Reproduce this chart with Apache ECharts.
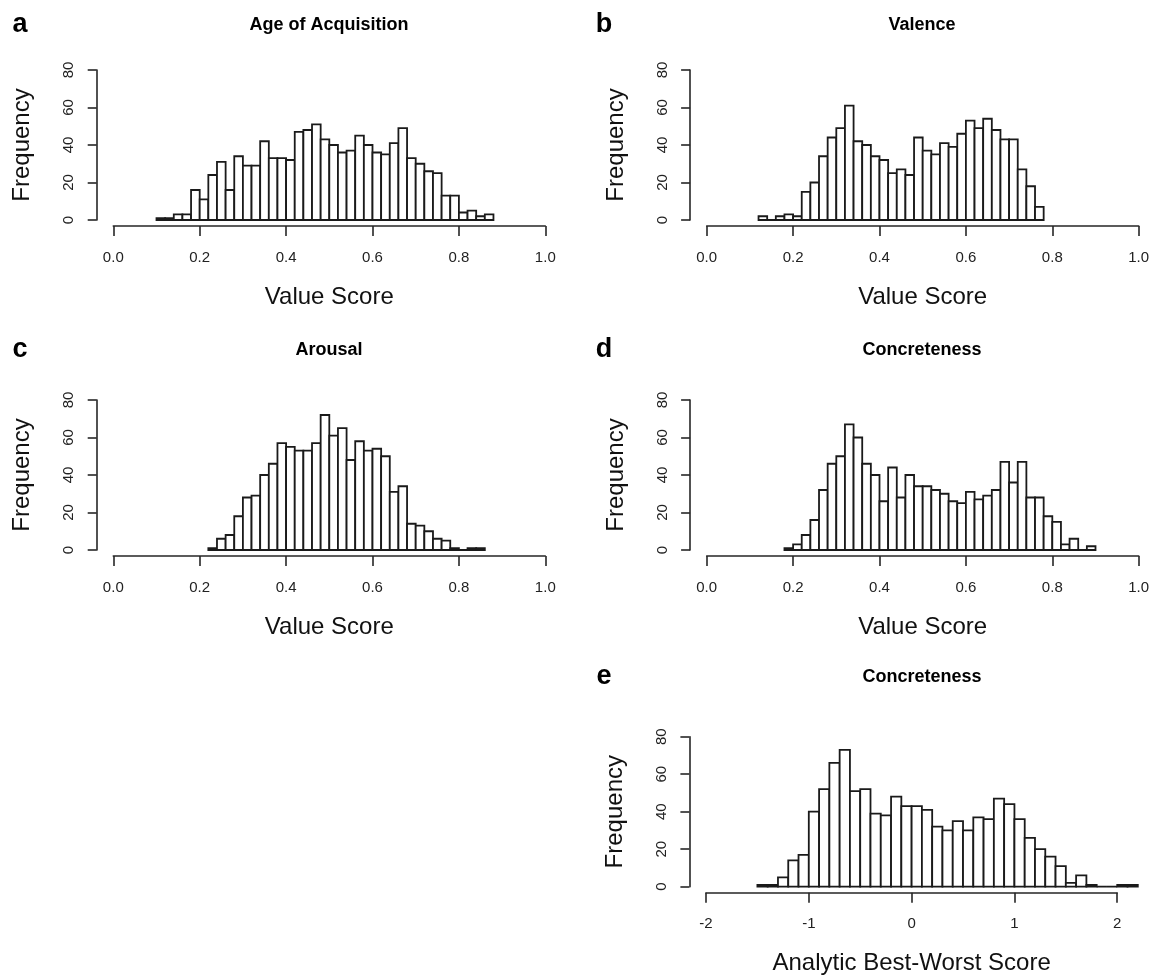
<!DOCTYPE html>
<html>
<head>
<meta charset="utf-8">
<script src="https://cdn.jsdelivr.net/npm/echarts@6/dist/echarts.min.js"></script>
<style>
html,body{margin:0;padding:0;background:#fff;}
#chart{width:1153px;height:977px;}
</style>
</head>
<body>
<div id="chart"></div>
<script>
// ---- data ----
const aoaStart = 0.10, aoaWidth = 0.02;
const aoaCounts = [1,1,3,3,16,11,24,31,16,34,29,29,42,33,33,32,47,48,51,43,40,36,37,45,40,36,35,41,49,33,30,26,25,13,13,4,5,2,3];
const valenceStart = 0.12, valenceWidth = 0.02;
const valenceCounts = [2,0,2,3,2,15,20,34,44,49,61,42,40,34,32,25,27,24,44,37,35,41,39,46,53,49,54,48,43,43,27,18,7];
const arousalStart = 0.22, arousalWidth = 0.02;
const arousalCounts = [1,6,8,18,28,29,40,46,57,55,53,53,57,72,61,65,48,58,53,54,50,31,34,14,13,10,6,5,1,0,1,1];
const concreteStart = 0.18, concreteWidth = 0.02;
const concreteCounts = [1,3,8,16,32,46,50,67,60,46,40,26,44,28,40,34,34,32,30,26,25,31,27,29,32,47,36,47,28,28,18,15,3,6,0,2];
const bwsStart = -1.5, bwsWidth = 0.1;
const bwsCounts = [1,1,5,14,17,40,52,66,73,51,52,39,38,48,43,43,41,32,30,35,30,37,36,47,44,36,26,20,16,11,2,6,1,0,0,1,1];

const freqTicks = [0, 20, 40, 60, 80];
const valueTickLabels = ['0.0','0.2','0.4','0.6','0.8','1.0'];
const bwsTickLabels = ['-2','-1','0','1','2'];
const panelTitles = ['Age of Acquisition','Valence','Arousal','Concreteness','Concreteness'];
const panelLetters = ['a','b','c','d','e'];
const xNames = ['Value Score','Value Score','Value Score','Value Score','Analytic Best-Worst Score'];
const yName = 'Frequency';

// ---- layout ----
const FONT = "'Liberation Sans', Arial, Helvetica, sans-serif";
const INK = '#222';
const grids = [
  {left:113.3, top:70,  width:432, height:150},
  {left:706.7, top:70,  width:432, height:150},
  {left:113.3, top:400, width:432, height:150},
  {left:706.7, top:400, width:432, height:150},
  {left:706,   top:736.7, width:431.8, height:150},   // data grid e (-2 .. 2.2)
  {left:706,   top:736.7, width:411.2, height:150}    // axis-only grid e (-2 .. 2)
].map(g => Object.assign({outerBoundsMode:'none', containLabel:false}, g));

const histSets = [
  [aoaStart, aoaWidth, aoaCounts],
  [valenceStart, valenceWidth, valenceCounts],
  [arousalStart, arousalWidth, arousalCounts],
  [concreteStart, concreteWidth, concreteCounts],
  [bwsStart, bwsWidth, bwsCounts]
];

function binData(start, width, counts){
  return counts.map((c, i) => [start + i*width, start + (i+1)*width, c]);
}

const axisLineStyle = {color:'#262626', width:1.6};
function makeXAxis(i){
  if (i === 4) {
    return {type:'value', gridIndex:4, min:-2, max:2.2, show:false};
  }
  const common = {
    type:'value', gridIndex:i, position:'bottom', offset:6,
    axisLine:{show:true, onZero:false, lineStyle:axisLineStyle},
    axisTick:{show:true, length:10, lineStyle:axisLineStyle},
    splitLine:{show:false},
    nameLocation:'middle', nameGap:59,
    nameTextStyle:{fontSize:24, color:'#111', fontFamily:FONT}
  };
  if (i === 5) {
    return Object.assign(common, {
      min:-2, max:2, interval:1, name:xNames[4],
      axisLabel:{show:true, margin:24, fontSize:15, color:INK, fontFamily:FONT,
        formatter: v => bwsTickLabels[Math.round(v + 2)]}
    });
  }
  return Object.assign(common, {
    min:0, max:1, interval:0.2, name:xNames[i],
    axisLabel:{show:true, margin:24, fontSize:15, color:INK, fontFamily:FONT,
      formatter: v => valueTickLabels[Math.round(v / 0.2)]}
  });
}
function makeYAxis(i){
  return {
    type:'value', gridIndex:i, min:freqTicks[0], max:freqTicks[freqTicks.length-1], interval:20,
    position:'left', offset:16.6,
    axisLine:{show:true, onZero:false, lineStyle:axisLineStyle},
    axisTick:{show:true, length:9, lineStyle:axisLineStyle},
    splitLine:{show:false},
    axisLabel:{show:true, rotate:90, margin:20, fontSize:15, color:INK, fontFamily:FONT},
    name: yName, nameLocation:'middle', nameRotate:90, nameGap:62,
    nameTextStyle:{fontSize:24, color:'#111', fontFamily:FONT}
  };
}

const xAxes = [0,1,2,3,4,5].map(i => makeXAxis(i));
const yAxes = [0,1,2,3,4].map(i => makeYAxis(i));
yAxes.push({type:'value', gridIndex:5, min:0, max:80, show:false});

function renderBar(params, api){
  const p0 = api.coord([api.value(0), 0]);
  const p1 = api.coord([api.value(1), api.value(2)]);
  return {
    type:'rect',
    shape:{x:p0[0], y:p1[1], width:p1[0]-p0[0], height:p0[1]-p1[1]},
    style:{fill:'#ffffff', stroke:'#1a1a1a', lineWidth:1.8}
  };
}

const series = histSets.map((h, i) => ({
  type:'custom', xAxisIndex:i, yAxisIndex:i, renderItem:renderBar,
  encode:{x:[0,1], y:2}, data:binData(h[0], h[1], h[2]), silent:true, animation:false, clip:false
}));

const letterPos = [[20,25],[604,25],[20,350],[604,350],[604,677]];
const titlePos = [[329,25],[922,25],[329,350],[922,350],[922,677]];
const graphics = [];
panelLetters.forEach((t, i) => graphics.push({
  type:'text', x:letterPos[i][0], y:letterPos[i][1],
  style:{text:t, font:"bold 27px " + FONT, fill:'#000', textAlign:'center', textVerticalAlign:'middle'}
}));
panelTitles.forEach((t, i) => graphics.push({
  type:'text', x:titlePos[i][0], y:titlePos[i][1],
  style:{text:t, font:"bold 18px " + FONT, fill:'#000', textAlign:'center', textVerticalAlign:'middle'}
}));

const chart = echarts.init(document.getElementById('chart'), null, {renderer:'canvas'});
chart.setOption({
  animation:false,
  backgroundColor:'#ffffff',
  grid:grids,
  xAxis:xAxes,
  yAxis:yAxes,
  series:series,
  graphic:graphics
});
</script>
</body>
</html>
